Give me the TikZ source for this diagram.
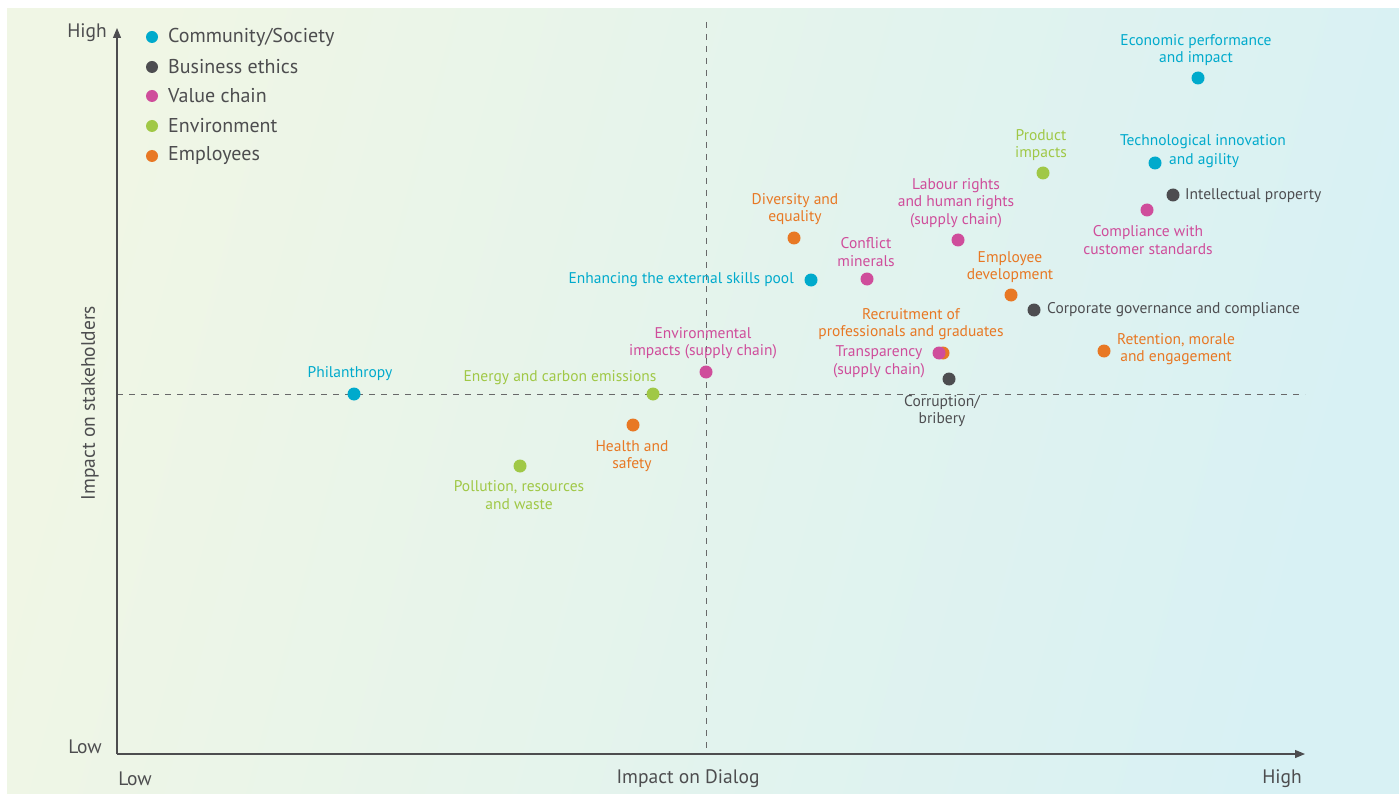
\documentclass[tikz,border=0pt]{standalone}
\usepackage{fontspec}
\setmainfont{PT Sans}
\usetikzlibrary{arrows.meta}
\definecolor{cCom}{RGB}{0,170,204}
\definecolor{cBus}{RGB}{77,77,80}
\definecolor{cVal}{RGB}{207,77,155}
\definecolor{cEnv}{RGB}{160,200,70}
\definecolor{cEmp}{RGB}{232,120,36}
\definecolor{axisgray}{RGB}{77,77,79}
\definecolor{bgL}{RGB}{240,246,229}
\definecolor{bgR}{RGB}{216,241,244}
\begin{document}
\begin{tikzpicture}[x=1pt,y=-1pt,
  dot/.style={circle,fill=#1,minimum size=13pt,inner sep=0pt},
  lbl/.style={text=#1,font=\fontsize{15.5}{17.5}\selectfont,align=center,inner sep=0pt},
  legdot/.style={circle,fill=#1,minimum size=12pt,inner sep=0pt},
  legtxt/.style={text=axisgray,font=\fontsize{20}{22}\selectfont,anchor=west,inner sep=0pt},
  axlbl/.style={text=axisgray,font=\fontsize{19.5}{22}\selectfont,inner sep=0pt},
  axisline/.style={draw=axisgray,line width=1.2pt,-{Triangle[length=10pt,width=8pt]}},
  guide/.style={draw=axisgray!85,line width=0.8pt,dash pattern=on 6pt off 6pt}]
\useasboundingbox (0,0) rectangle (1399,794);
\shade[left color=bgL,right color=bgR,shading angle=75] (7,9) rectangle (1399,794);

% coordinates for axes and guides
\coordinate (origin) at (117,754);
\coordinate (ytop) at (117,28);
\coordinate (xend) at (1305,754);
\coordinate (vtop) at (706,22);
\coordinate (vbot) at (706,754);
\coordinate (hl) at (117,394);
\coordinate (hr) at (1305,394);

\draw[guide] (vtop) -- (vbot);
\draw[guide] (hl) -- (hr);
\draw[axisline] (origin) -- (ytop);
\draw[axisline] (origin) -- (xend);

% axis labels
\node[axlbl] (yhigh) at (87,33) {High};
\node[axlbl] (ylow) at (85,747) {Low};
\node[axlbl] (xlow) at (135,779) {Low};
\node[axlbl] (xmid) at (688,779) {Impact on Dialog};
\node[axlbl] (xhigh) at (1282,779) {High};
\node[axlbl,rotate=90] (ytitle) at (90,403) {Impact on stakeholders};

% legend
\node[legdot=cCom] (l1) at (152,37) {};
\node[legtxt] (t1) at (168,37) {Community/Society};
\node[legdot=cBus] (l2) at (152,67) {};
\node[legtxt] (t2) at (168,67) {Business ethics};
\node[legdot=cVal] (l3) at (152,96) {};
\node[legtxt] (t3) at (168,96) {Value chain};
\node[legdot=cEnv] (l4) at (152,126) {};
\node[legtxt] (t4) at (168,126) {Environment};
\node[legdot=cEmp] (l5) at (152,156) {};
\node[legtxt] (t5) at (168,156) {Employees};

% data points
\node[dot=cCom] (econ) at (1198,78) {};
\node[lbl=cCom] (econL) at (1196,50) {Economic performance\\and impact};

\node[dot=cCom] (tech) at (1155,163) {};
\node[lbl=cCom,anchor=north] (techL) at (1203,134) {Technological innovation};
\node[lbl=cCom,anchor=west] (techL2) at (1169,161) {and agility};

\node[dot=cBus] (ip) at (1173,195) {};
\node[lbl=cBus,anchor=west] (ipL) at (1185,196) {Intellectual property};

\node[dot=cVal] (comp) at (1147,210) {};
\node[lbl=cVal] (compL) at (1148,240) {Compliance with\\customer standards};

\node[dot=cEnv] (prod) at (1043,173) {};
\node[lbl=cEnv] (prodL) at (1041,145) {Product\\impacts};

\node[dot=cVal] (labour) at (958,240) {};
\node[lbl=cVal] (labourL) at (956,203) {Labour rights\\and human rights\\(supply chain)};

\node[dot=cEmp] (div) at (794,238) {};
\node[lbl=cEmp] (divL) at (795,209) {Diversity and\\equality};

\node[dot=cVal] (conf) at (867,279) {};
\node[lbl=cVal] (confL) at (866,252) {Conflict\\minerals};

\node[dot=cCom] (skills) at (811,280) {};
\node[lbl=cCom,anchor=east] (skillsL) at (794,280) {Enhancing the external skills pool};

\node[dot=cEmp] (empdev) at (1011,295) {};
\node[lbl=cEmp] (empdevL) at (1010,267) {Employee\\development};

\node[dot=cBus] (gov) at (1034,310) {};
\node[lbl=cBus,anchor=west] (govL) at (1047,310) {Corporate governance and compliance};

\node[dot=cEmp] (recr) at (943,353) {};
\node[lbl=cEmp] (recrL) at (911,324) {Recruitment of\\professionals and graduates};

\node[dot=cVal] (transp) at (939,353) {};
\node[lbl=cVal] (transpL) at (879,362) {Transparency\\(supply chain)};

\node[dot=cBus] (corr) at (949,379) {};
\node[lbl=cBus] (corrL) at (942,411) {Corruption/\\bribery};

\node[dot=cEmp] (ret) at (1104,351) {};
\node[lbl=cEmp] (retL) at (1176,349) {Retention, morale\\and engagement};

\node[dot=cVal] (envimp) at (706,372) {};
\node[lbl=cVal] (envimpL) at (703,343) {Environmental\\impacts (supply chain)};

\node[dot=cEnv] (energy) at (653,394) {};
\node[lbl=cEnv] (energyL) at (560,378) {Energy and carbon emissions};

\node[dot=cCom] (phil) at (354,394) {};
\node[lbl=cCom] (philL) at (350,374) {Philanthropy};

\node[dot=cEmp] (health) at (633,425) {};
\node[lbl=cEmp] (healthL) at (632,456) {Health and\\safety};

\node[dot=cEnv] (poll) at (520,466) {};
\node[lbl=cEnv] (pollL) at (519,495) {Pollution, resources\\and waste};
\end{tikzpicture}
\end{document}
